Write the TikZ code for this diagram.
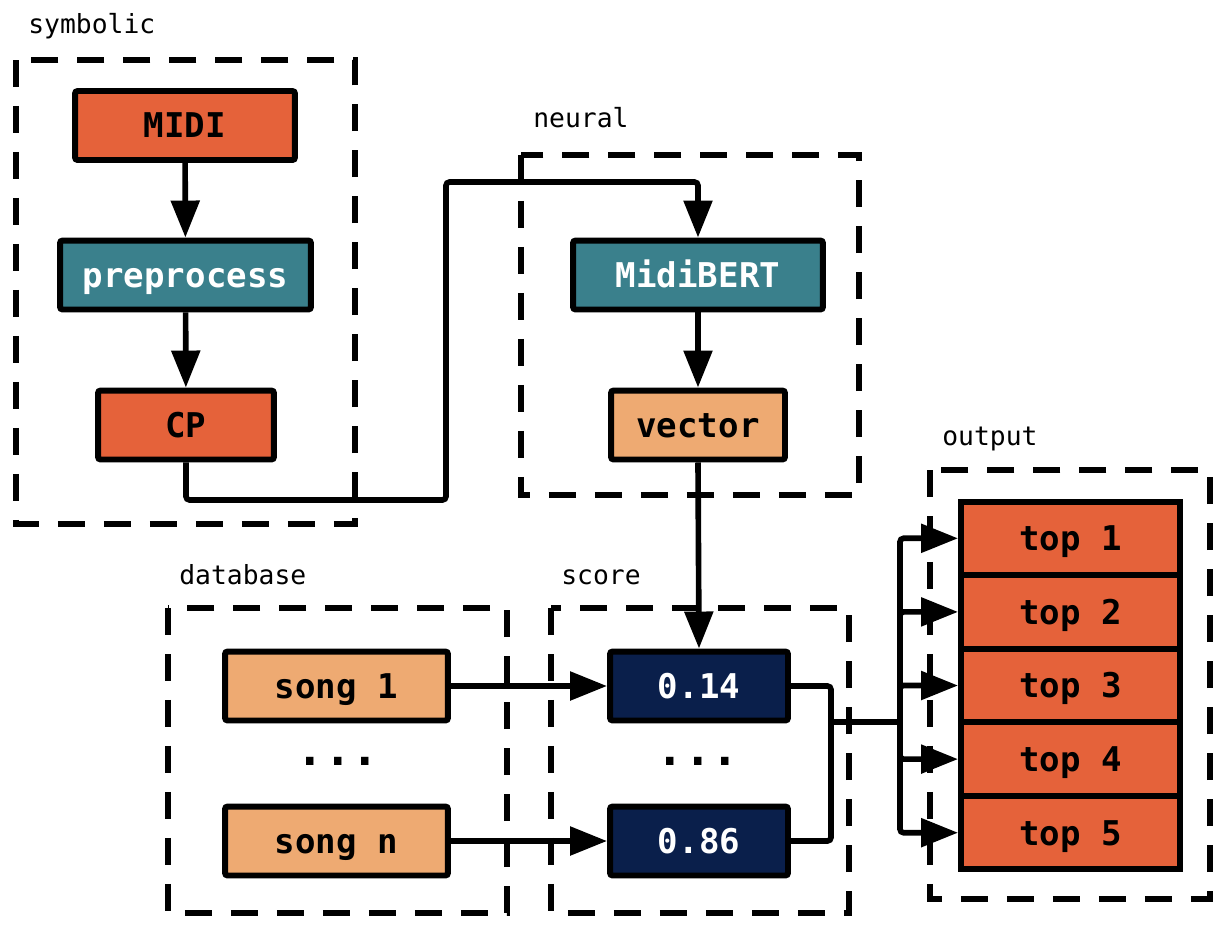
\documentclass[tikz,border=0pt]{standalone}
\usepackage{fontspec}
\setmonofont{DejaVu Sans Mono}
\usetikzlibrary{arrows.meta}
\definecolor{midired}{RGB}{229,98,58}
\definecolor{bertteal}{RGB}{58,128,140}
\definecolor{vecorange}{RGB}{238,170,114}
\definecolor{scorenavy}{RGB}{10,31,75}
\tikzset{
  box/.style={draw, line width=3.4pt, rounded corners=1.5pt, inner sep=0pt, minimum height=1.38cm,
    text height=14.2pt, text depth=0pt,
    font=\ttfamily\bfseries\fontsize{19.4}{19.4}\selectfont},
  grp/.style={draw, line width=3.4pt, dash pattern=on 0.54cm off 0.38cm},
  lbl/.style={font=\ttfamily\fontsize{15}{15}\selectfont, anchor=base west, inner sep=0pt},
  dots/.style={font=\ttfamily\bfseries\fontsize{26}{26}\selectfont},
  wire/.style={line width=3.2pt, rounded corners=2pt},
  conn/.style={wire, -{Triangle[length=0.74cm,width=0.56cm]}},
}
\begin{document}
\begin{tikzpicture}[x=0.02cm,y=-0.02cm,line cap=butt,line join=miter]
    \useasboundingbox (0,0) rectangle (1228,934);
    \def\topgap{73.6}

    % symbolic
    \draw[grp] (16,60) rectangle (355,524);
    \node[lbl] (symlbl) at (28,33) {symbolic};
    \node[box,fill=midired,minimum width=4.4cm] (midi) at (185,125.5) {MIDI};
    \node[box,fill=bertteal,text=white,minimum width=5.02cm] (prep) at (185.5,275) {preprocess};
    \node[box,fill=midired,minimum width=3.52cm] (cp) at (186,425) {CP};
    \draw[conn] (midi) -- (prep);
    \draw[conn] (prep) -- (cp);

    % neural
    \draw[grp] (521,155) rectangle (859,495);
    \node[lbl] (neurlbl) at (533,127) {neural};
    \node[box,fill=bertteal,text=white,minimum width=5cm] (bert) at (698,275) {MidiBERT};
    \node[box,fill=vecorange,minimum width=3.48cm] (vec) at (698,425) {vector};
    \draw[conn] (bert) -- (vec);
    \draw[conn] (cp.south) |- (446,500) -- (446,182) -| (bert.north);

    % database
    \draw[grp] (168,608) rectangle (507,913);
    \node[lbl] (dblbl) at (179,584) {database};
    \node[box,fill=vecorange,minimum width=4.46cm] (song1) at (336.5,686) {song 1};
    \node[dots] (dbdots) at (338,761) {...};
    \node[box,fill=vecorange,minimum width=4.46cm] (songn) at (336.5,841) {song n};

    % score
    \draw[grp] (551,608) rectangle (849,913);
    \node[lbl] (sclbl) at (561,584) {score};
    \node[box,fill=scorenavy,text=white,minimum width=3.56cm] (s1) at (699,686) {0.14};
    \node[dots] (scdots) at (698,761) {...};
    \node[box,fill=scorenavy,text=white,minimum width=3.56cm] (sn) at (699,841) {0.86};
    \draw[conn] (vec.south) -- (s1.north);
    \draw[conn] (song1) -- (s1);
    \draw[conn] (songn) -- (sn);

    % output
    \draw[grp] (930,470) rectangle (1210,899);
    \node[lbl] (outlbl) at (942,445) {output};
    \foreach \i in {1,...,5} {
        \node[box,fill=midired,rounded corners=0pt,minimum width=4.38cm,minimum height=1.47cm]
            (top\i) at (1070.5,{501.5+(\i-0.5)*\topgap}) {top \i};
    }
    \coordinate (join) at (831,722);
    \coordinate (fork) at (900,722);
    \draw[wire] (s1.east) -| (join) |- (sn.east);
    \draw[wire] (join) -- (fork);
    \foreach \i in {1,...,5} {\draw[conn] (fork) |- (top\i.west);}
\end{tikzpicture}
\end{document}
